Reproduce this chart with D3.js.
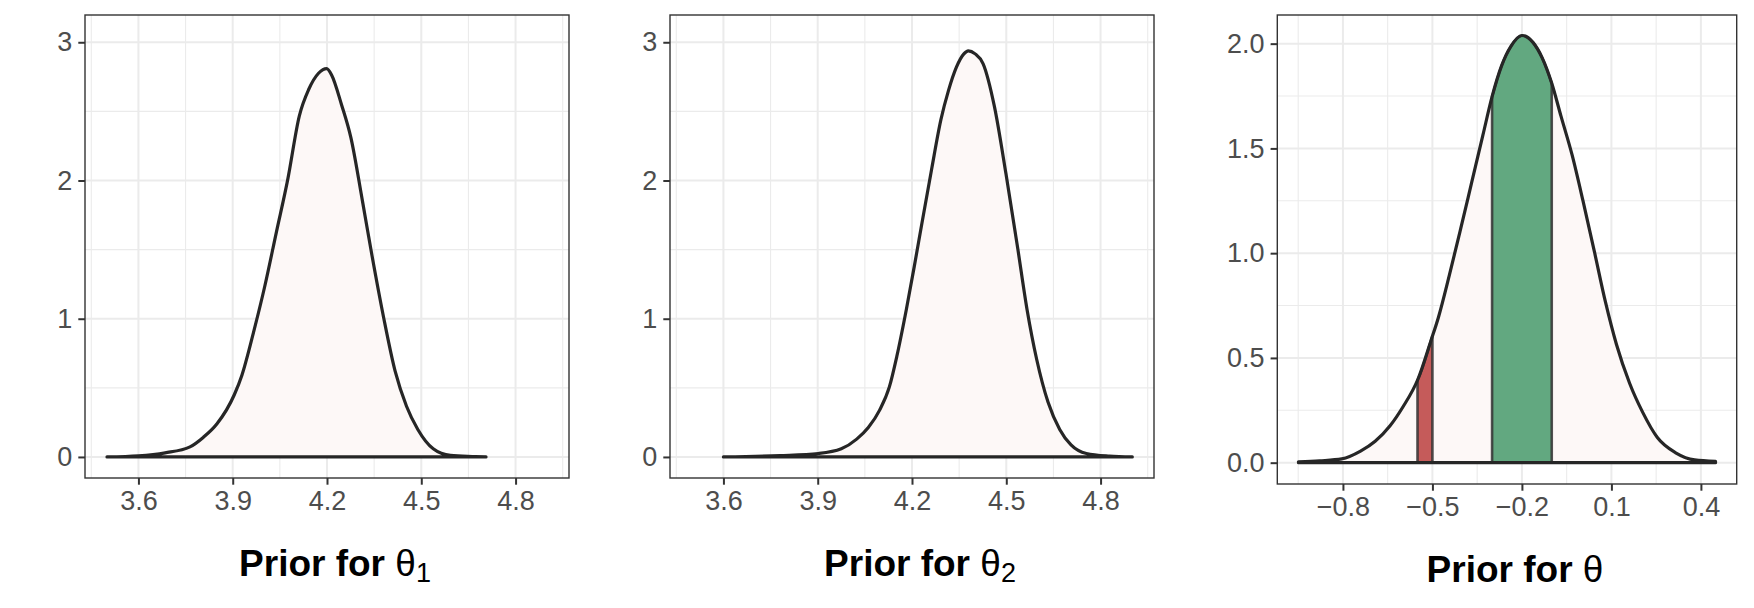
<!DOCTYPE html>
<html><head><meta charset="utf-8">
<script src="https://cdn.jsdelivr.net/npm/d3@7"></script>
<style>body{margin:0;background:#fff}</style>
</head><body><svg id="c" width="1754" height="608" xmlns="http://www.w3.org/2000/svg"></svg>
<script>
// ---- data ----
const theta1X = [3.5, 3.60, 3.685, 3.764, 3.807, 3.85, 3.905, 3.929, 3.966, 4.002, 4.039, 4.075, 4.112, 4.142, 4.173, 4.199, 4.215, 4.246, 4.276, 4.313, 4.343, 4.38, 4.417, 4.453, 4.489, 4.538, 4.593, 4.672, 4.706];
const theta1Y = [0.0, 0.008, 0.03, 0.073, 0.143, 0.24, 0.45, 0.59, 0.90, 1.235, 1.627, 2.006, 2.468, 2.66, 2.776, 2.81, 2.762, 2.55, 2.31, 1.849, 1.459, 1.011, 0.619, 0.367, 0.199, 0.059, 0.011, 0.003, 0.0];

const theta2X = [3.6, 3.78, 3.902, 3.975, 4.024, 4.061, 4.097, 4.128, 4.152, 4.182, 4.207, 4.231, 4.262, 4.292, 4.316, 4.341, 4.365, 4.379, 4.401, 4.426, 4.462, 4.499, 4.536, 4.566, 4.597, 4.633, 4.67, 4.706, 4.755, 4.828, 4.901];
const theta2Y = [0.0, 0.01, 0.025, 0.059, 0.129, 0.213, 0.339, 0.507, 0.731, 1.067, 1.375, 1.683, 2.076, 2.44, 2.65, 2.818, 2.916, 2.938, 2.916, 2.846, 2.538, 2.048, 1.515, 1.067, 0.703, 0.395, 0.199, 0.087, 0.025, 0.006, 0.0];

const thetaX = [-0.949, -0.878, -0.804, -0.741, -0.692, -0.642, -0.598, -0.549, -0.505, -0.48, -0.443, -0.405, -0.368, -0.331, -0.3, -0.268, -0.237, -0.2, -0.163, -0.132, -0.1, -0.069, -0.032, 0.005, 0.043, 0.08, 0.117, 0.161, 0.205, 0.254, 0.317, 0.379, 0.449];
const thetaY = [0.004, 0.009, 0.018, 0.055, 0.102, 0.176, 0.268, 0.397, 0.582, 0.693, 0.896, 1.118, 1.34, 1.562, 1.747, 1.895, 1.987, 2.039, 2.006, 1.932, 1.811, 1.654, 1.47, 1.248, 1.007, 0.767, 0.564, 0.379, 0.24, 0.12, 0.046, 0.013, 0.006];

const xTicksTheta12 = [3.6, 3.9, 4.2, 4.5, 4.8];
const yTicksTheta12 = [0, 1, 2, 3];
const xTicksTheta = [-0.8, -0.5, -0.2, 0.1, 0.4];
const yTicksTheta = [0, 0.5, 1.0, 1.5, 2.0];

const redBand = [-0.55, -0.5];
const greenBand = [-0.3, -0.1];

const titleSubs = ["1", "2", ""];

// ---- layout / style ----
const panels = [
  {x0: 85, x1: 569, y0: 15, y1: 478, xs: theta1X, ys: theta1Y, xlim: [3.5, 4.9], ylim: [0, 3.045],
   xt: xTicksTheta12, yt: yTicksTheta12, fmt: d3.format(".1f"), yfmt: d3.format("d"), sub: titleSubs[0], bands: []},
  {x0: 670, x1: 1154, y0: 15, y1: 478, xs: theta2X, ys: theta2Y, xlim: [3.5, 4.9], ylim: [0, 3.045],
   xt: xTicksTheta12, yt: yTicksTheta12, fmt: d3.format(".1f"), yfmt: d3.format("d"), sub: titleSubs[1], bands: []},
  {x0: 1277.3, x1: 1736.7, y0: 15, y1: 484, xs: thetaX, ys: thetaY, xlim: [-0.95, 0.45], ylim: [0, 2.035],
   xt: xTicksTheta, yt: yTicksTheta, fmt: d3.format(".1f"), yfmt: d3.format(".1f"), sub: titleSubs[2],
   bands: [{r: redBand, fill: "#C55B5A"}, {r: greenBand, fill: "#62A880"}]}
];

const svg = d3.select("#c");
svg.append("rect").attr("width", 1754).attr("height", 608).attr("fill", "#fff");
const FONT = "'Liberation Sans', Arial, Helvetica, sans-serif";
const gridCol = "#EBEBEB";

function expand(l) { const d = (l[1] - l[0]) * 0.05; return [l[0] - d, l[1] + d]; }
function mids(t, dom) {
  const step = t[1] - t[0];
  const out = [];
  for (let v = t[0] - step / 2; v <= dom[1] + 1e-9; v += step) if (v >= dom[0]) out.push(+v.toFixed(6));
  return out;
}

panels.forEach(p => {
  const xd = expand(p.xlim), yd = expand(p.ylim);
  const x = d3.scaleLinear().domain(xd).range([p.x0, p.x1]);
  const y = d3.scaleLinear().domain(yd).range([p.y1, p.y0]);
  const g = svg.append("g");

  // minor grid
  mids(p.xt, xd).forEach(v => g.append("line").attr("x1", x(v)).attr("x2", x(v)).attr("y1", p.y0).attr("y2", p.y1)
    .attr("stroke", gridCol).attr("stroke-width", 1.1));
  mids(p.yt, yd).forEach(v => g.append("line").attr("y1", y(v)).attr("y2", y(v)).attr("x1", p.x0).attr("x2", p.x1)
    .attr("stroke", gridCol).attr("stroke-width", 1.1));
  // major grid
  p.xt.forEach(v => g.append("line").attr("x1", x(v)).attr("x2", x(v)).attr("y1", p.y0).attr("y2", p.y1)
    .attr("stroke", gridCol).attr("stroke-width", 2));
  p.yt.forEach(v => g.append("line").attr("y1", y(v)).attr("y2", y(v)).attr("x1", p.x0).attr("x2", p.x1)
    .attr("stroke", gridCol).attr("stroke-width", 2));

  const pts = p.xs.map((v, i) => [v, p.ys[i]]);
  const area = d3.area().x(d => x(d[0])).y0(y(0)).y1(d => y(d[1])).curve(d3.curveMonotoneX);

  g.append("path").datum(pts).attr("d", area).attr("fill", "#FDF8F7").attr("stroke", "none");

  // bands
  p.bands.forEach(b => {
    const interp = v => {
      for (let i = 0; i < pts.length - 1; i++) {
        if (v >= pts[i][0] && v <= pts[i + 1][0]) {
          const t = (v - pts[i][0]) / (pts[i + 1][0] - pts[i][0]);
          return pts[i][1] + t * (pts[i + 1][1] - pts[i][1]);
        }
      }
      return 0;
    };
    const sub = [[b.r[0], interp(b.r[0])]].concat(pts.filter(d => d[0] > b.r[0] && d[0] < b.r[1]), [[b.r[1], interp(b.r[1])]]);
    g.append("path").datum(sub).attr("d", area).attr("fill", b.fill)
      .attr("stroke", "#333333").attr("stroke-opacity", 0.85).attr("stroke-width", 2.6);
  });

  // outline
  g.append("path").datum(pts).attr("d", area).attr("fill", "none")
    .attr("stroke", "#262626").attr("stroke-width", 3.2).attr("stroke-linejoin", "round").attr("stroke-linecap", "round");

  // border
  g.append("rect").attr("x", p.x0).attr("y", p.y0).attr("width", p.x1 - p.x0).attr("height", p.y1 - p.y0)
    .attr("fill", "none").attr("stroke", "#333333").attr("stroke-width", 1.4);

  // axes
  const ax = g.append("g").attr("transform", `translate(0,${p.y1})`)
    .call(d3.axisBottom(x).tickValues(p.xt).tickFormat(p.fmt).tickSize(6.7).tickPadding(6).tickSizeOuter(0));
  const ay = g.append("g").attr("transform", `translate(${p.x0},0)`)
    .call(d3.axisLeft(y).tickValues(p.yt).tickFormat(p.yfmt).tickSize(6.7).tickPadding(6).tickSizeOuter(0));
  [ax, ay].forEach(a => {
    a.select(".domain").remove();
    a.selectAll("line").attr("stroke", "#333333").attr("stroke-width", 2);
    a.selectAll("text").attr("fill", "#4D4D4D").style("font-family", FONT).style("font-size", "27px");
  });

  // title
  const cx = (p.x0 + p.x1) / 2 + 8;
  const t = g.append("text").attr("x", cx).attr("y", p.y1 + 98).attr("text-anchor", "middle")
    .style("font-family", FONT).style("font-size", "37px").attr("fill", "#000");
  t.append("tspan").style("font-weight", "bold").text("Prior for ");
  t.append("tspan").style("font-weight", "normal").text("\u03B8");
  if (p.sub) t.append("tspan").attr("dy", 6).style("font-size", "27px").style("font-weight", "normal").text(p.sub);
});
</script>
</body></html>
